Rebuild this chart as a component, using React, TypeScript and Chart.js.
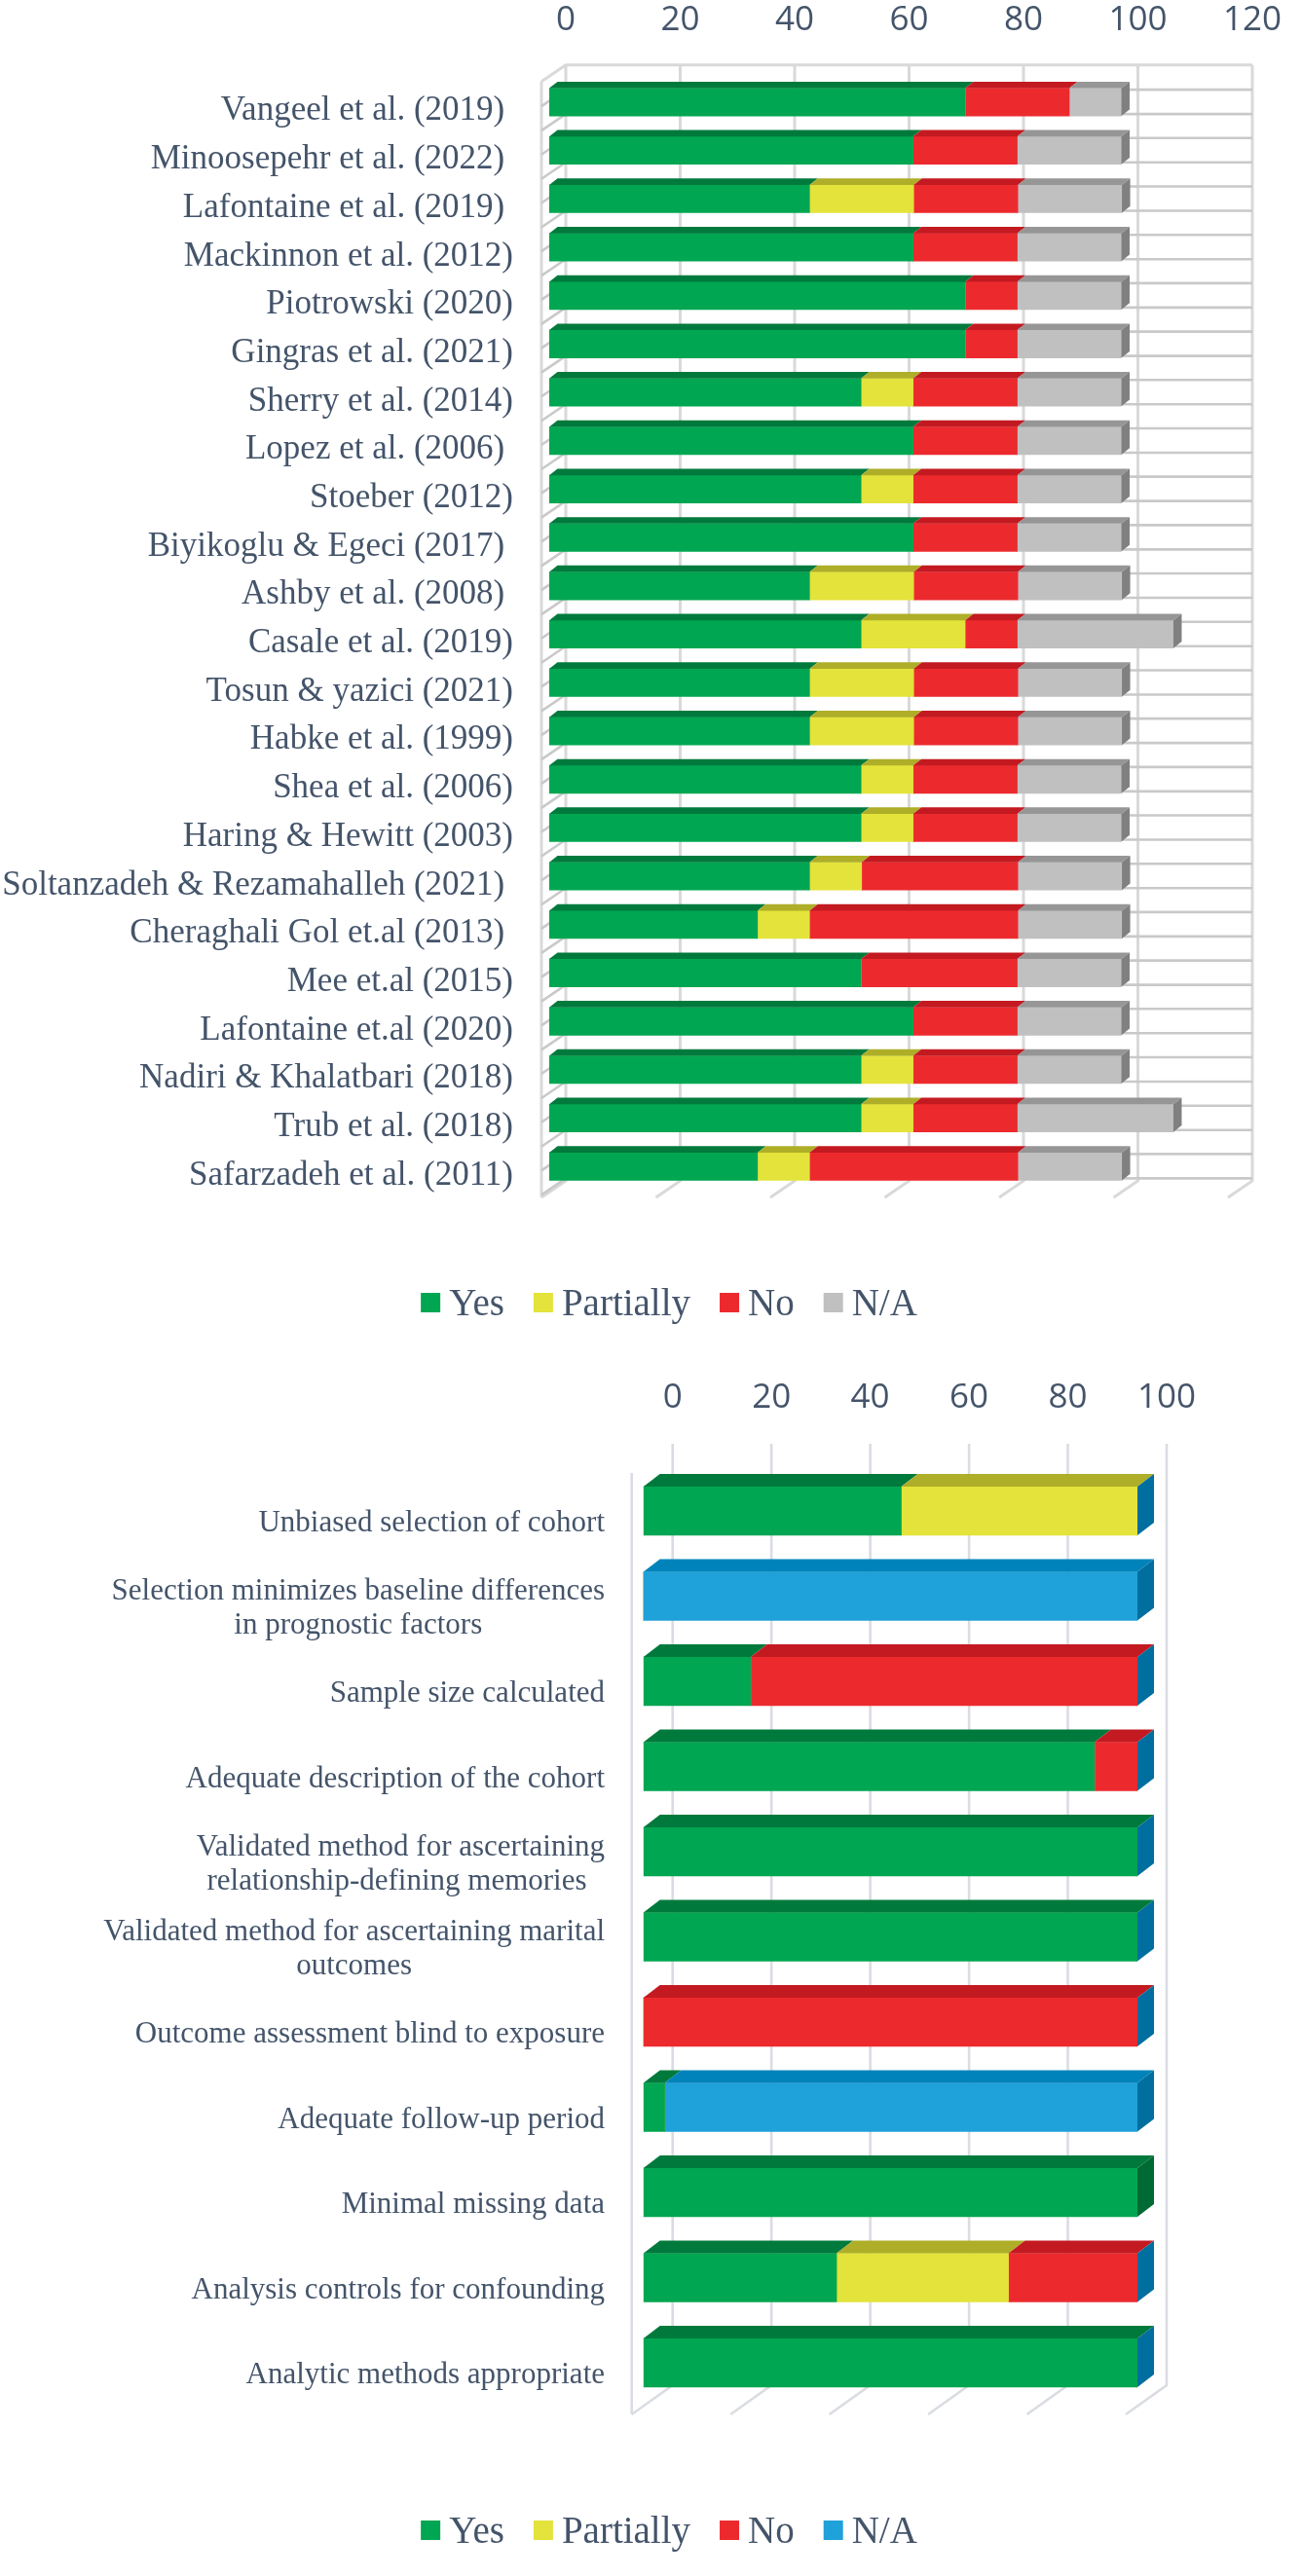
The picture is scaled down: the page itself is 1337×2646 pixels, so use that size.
import React, { useEffect, useRef } from "react";
import { Chart, registerables } from "chart.js";

Chart.register(...registerables);

// ---- data: risk of bias per study (% of 11 items) ----
const studies = [
  "Vangeel et al. (2019) ",
  "Minoosepehr et al. (2022) ",
  "Lafontaine et al. (2019) ",
  "Mackinnon et al. (2012)",
  "Piotrowski (2020)",
  "Gingras et al. (2021)",
  "Sherry et al. (2014)",
  "Lopez et al. (2006) ",
  "Stoeber (2012)",
  "Biyikoglu & Egeci (2017) ",
  "Ashby et al. (2008) ",
  "Casale et al. (2019)",
  "Tosun & yazici (2021)",
  "Habke et al. (1999)",
  "Shea et al. (2006)",
  "Haring & Hewitt (2003)",
  "Soltanzadeh & Rezamahalleh (2021) ",
  "Cheraghali Gol et.al (2013) ",
  "Mee et.al (2015)",
  "Lafontaine et.al (2020)",
  "Nadiri & Khalatbari (2018)",
  "Trub et al. (2018)",
  "Safarzadeh et al. (2011)",
];
const studyYes = [72.7, 63.6, 45.5, 63.6, 72.7, 72.7, 54.5, 63.6, 54.5, 63.6, 45.5, 54.5, 45.5, 45.5, 54.5, 54.5, 45.5, 36.4, 54.5, 63.6, 54.5, 54.5, 36.4];
const studyPartially = [0, 0, 18.2, 0, 0, 0, 9.1, 0, 9.1, 0, 18.2, 18.2, 18.2, 18.2, 9.1, 9.1, 9.1, 9.1, 0, 0, 9.1, 9.1, 9.1];
const studyNo = [18.2, 18.2, 18.2, 18.2, 9.1, 9.1, 18.2, 18.2, 18.2, 18.2, 18.2, 9.1, 18.2, 18.2, 18.2, 18.2, 27.3, 36.4, 27.3, 18.2, 18.2, 18.2, 36.4];
const studyNA = [9.1, 18.2, 18.2, 18.2, 18.2, 18.2, 18.2, 18.2, 18.2, 18.2, 18.2, 27.3, 18.2, 18.2, 18.2, 18.2, 18.2, 18.2, 18.2, 18.2, 18.2, 27.3, 18.2];

// ---- data: per criterion (% of 23 studies) ----
const criteria = [
  ["Unbiased selection of cohort"],
  ["Selection minimizes baseline differences", "in prognostic factors"],
  ["Sample size calculated"],
  ["Adequate description of the cohort"],
  ["Validated method for ascertaining", "relationship-defining memories "],
  ["Validated method for ascertaining marital", "outcomes"],
  ["Outcome assessment blind to exposure"],
  ["Adequate follow-up period"],
  ["Minimal missing data"],
  ["Analysis controls for confounding"],
  ["Analytic methods appropriate"],
];
// null = empty cell in the source sheet, 0 = a zero entry
const critYes = [52.2, 0, 21.7, 91.3, 100, 100, 0, 4.3, 100, 39.1, 100];
const critPartially = [47.8, 0, 0, 0, 0, 0, 0, 0, null, 34.8, 0];
const critNo = [0, 0, 78.3, 8.7, 0, 0, 100, 0, null, 26.1, 0];
const critNA = [0, 100, 0, 0, 0, 0, 0, 95.7, null, 0, 0];

const seriesNames = ["Yes", "Partially", "No", "N/A"];

// ---- styles ----
const TEXT = "#44546A";
const SERIF = '"Liberation Serif", "Times New Roman", serif';
const TICK_FONT = { family: '"Open Sans", sans-serif', size: 35, lineHeight: 1.2 };

const GREEN = { front: "#00A651", top: "#007A3C", side: "#006A34" };
const YELLOW = { front: "#E3E33B", top: "#AEAE28", side: "#8F8F1E" };
const RED = { front: "#EC2A2E", top: "#C31A21", side: "#A5141A" };
const GRAY = { front: "#C0C0C1", top: "#969696", side: "#808080" };
const BLUE = { front: "#1FA1DA", top: "#0083BA", side: "#006E9E" };

type Deco = {
  backOffset: number;
  depthX: number;
  depthY: number;
  barDx: number;
  barDy: number;
  wallTop: number;
  wallBottom: number;
  topEdge: boolean;
  rowLines: boolean;
  gridColor: string;
  gridWidth: number;
  labelSize: number;
  labelRight: number;
  labelShift: number;
  labelLine: number;
  legendCenter: number;
  legendTop: number;
  legendBaseline: number;
  faces: { top: string; side: string }[];
};

function decoPlugin(d: Deco) {
  return {
    id: "deco3d",
    beforeDatasetsDraw(chart: any) {
      const { ctx } = chart;
      const xs = chart.scales.x;
      const vals = xs.ticks.map((t: any) => t.value);
      const bx = (v: number) => xs.getPixelForValue(v) + d.backOffset;
      const x0 = bx(vals[0]);
      const x1 = bx(vals[vals.length - 1]);
      ctx.save();
      ctx.strokeStyle = d.gridColor;
      ctx.lineWidth = d.gridWidth;
      ctx.beginPath();
      for (const v of vals) {
        const x = bx(v);
        ctx.moveTo(x, d.wallTop);
        ctx.lineTo(x, d.wallBottom);
        ctx.lineTo(x - d.depthX, d.wallBottom + d.depthY);
      }
      ctx.moveTo(x0 - d.depthX, d.wallTop + d.depthY);
      ctx.lineTo(x0 - d.depthX, d.wallBottom + d.depthY);
      if (d.topEdge) {
        ctx.moveTo(x0 - d.depthX, d.wallTop + d.depthY);
        ctx.lineTo(x0, d.wallTop);
        ctx.lineTo(x1, d.wallTop);
      }
      ctx.stroke();
      if (d.rowLines) {
        ctx.strokeStyle = "#C9C9C9";
        ctx.lineWidth = 2.6;
        ctx.beginPath();
        chart.getDatasetMeta(0).data.forEach((bar: any) => {
          const { y, height } = bar.getProps(["y", "height"], true);
          for (const yy of [y - height / 2 + 1.5, y + height / 2 - 2]) {
            ctx.moveTo(x0 - d.depthX, yy + d.depthY);
            ctx.lineTo(x0, yy);
            ctx.lineTo(x1, yy);
          }
        });
        ctx.stroke();
      }
      ctx.restore();
    },
    afterDatasetsDraw(chart: any) {
      const { ctx } = chart;
      const sets = chart.data.datasets;
      const poly = (pts: number[][], color: string) => {
        ctx.fillStyle = color;
        ctx.beginPath();
        ctx.moveTo(pts[0][0], pts[0][1]);
        for (let k = 1; k < pts.length; k++) ctx.lineTo(pts[k][0], pts[k][1]);
        ctx.closePath();
        ctx.fill();
      };
      ctx.save();
      // top faces of every segment
      sets.forEach((ds: any, di: number) => {
        chart.getDatasetMeta(di).data.forEach((bar: any, i: number) => {
          const v = ds.data[i];
          if (v == null || v === 0) return;
          const { x, y, base, height } = bar.getProps(["x", "y", "base", "height"], true);
          const yT = y - height / 2;
          poly(
            [
              [base, yT],
              [x, yT],
              [x + d.barDx, yT - d.barDy],
              [base + d.barDx, yT - d.barDy],
            ],
            d.faces[di].top
          );
        });
      });
      // end face of the last filled series in each row
      const rows = chart.data.labels.length;
      for (let i = 0; i < rows; i++) {
        let last = -1;
        sets.forEach((ds: any, di: number) => {
          if (ds.data[i] != null) last = di;
        });
        if (last < 0) continue;
        const bar = chart.getDatasetMeta(last).data[i];
        const { x, y, height } = bar.getProps(["x", "y", "height"], true);
        const yT = y - height / 2;
        const yB = y + height / 2;
        poly(
          [
            [x, yT],
            [x + d.barDx, yT - d.barDy],
            [x + d.barDx, yB - d.barDy],
            [x, yB],
          ],
          d.faces[last].side
        );
      }
      ctx.restore();
    },
    afterDraw(chart: any) {
      const { ctx } = chart;
      const ys = chart.scales.y;
      ctx.save();
      // category labels, lines centred inside a right-aligned block
      ctx.font = `${d.labelSize}px ${SERIF}`;
      ctx.fillStyle = TEXT;
      ctx.textAlign = "center";
      ctx.textBaseline = "alphabetic";
      const cap = d.labelSize * 0.662;
      chart.data.labels.forEach((lab: any, i: number) => {
        const lines: string[] = Array.isArray(lab) ? lab : [lab];
        const w = Math.max(...lines.map((l) => ctx.measureText(l).width));
        const cx = d.labelRight - w / 2;
        const yc = ys.getPixelForValue(i) + d.labelShift;
        lines.forEach((l, k) => {
          ctx.fillText(l, cx, yc + cap / 2 + (k - (lines.length - 1) / 2) * d.labelLine);
        });
      });
      // legend
      ctx.font = `39px ${SERIF}`;
      ctx.textAlign = "left";
      const items = chart.data.datasets.map((ds: any) => ({ text: ds.label, color: ds.backgroundColor }));
      const widths = items.map((it: any) => 29 + ctx.measureText(it.text).width);
      const total = widths.reduce((a: number, b: number) => a + b, 0) + 30 * (items.length - 1);
      let x = d.legendCenter - total / 2;
      items.forEach((it: any, k: number) => {
        ctx.fillStyle = it.color;
        ctx.fillRect(x, d.legendTop, 20, 20);
        ctx.fillStyle = TEXT;
        ctx.fillText(it.text, x + 29, d.legendBaseline);
        x += widths[k] + 30;
      });
      ctx.restore();
    },
  };
}

function makeOptions(max: number, axisHeight: number, left: number, right: number, bottom: number, tickPad: number, labelOffset: number) {
  return {
    indexAxis: "y" as const,
    responsive: false,
    animation: false as const,
    layout: { padding: { left: 0, top: 0, right, bottom } },
    plugins: { legend: { display: false }, tooltip: { enabled: false } },
    scales: {
      x: {
        stacked: true,
        position: "top" as const,
        min: 0,
        max,
        grid: { display: false, drawTicks: false },
        border: { display: false },
        ticks: {
          stepSize: 20,
          font: TICK_FONT,
          color: TEXT,
          padding: tickPad,
          labelOffset,
          maxRotation: 0,
          autoSkip: false,
        },
        afterFit: (s: any) => {
          s.height = axisHeight;
        },
      },
      y: {
        stacked: true,
        grid: { display: false, drawTicks: false },
        border: { display: false },
        ticks: { display: false },
        afterFit: (s: any) => {
          s.width = left;
        },
      },
    },
  };
}

function StudyChart() {
  const ref = useRef<HTMLCanvasElement>(null);
  useEffect(() => {
    if (!ref.current) return;
    const colors = [GREEN, YELLOW, RED, GRAY];
    const values = [studyYes, studyPartially, studyNo, studyNA];
    const chart = new Chart(ref.current, {
      type: "bar",
      data: {
        labels: studies,
        datasets: values.map((data, k) => ({
          label: seriesNames[k],
          data,
          backgroundColor: colors[k].front,
          borderWidth: 0,
          barThickness: 28.5,
        })),
      },
      options: makeOptions(120, 80, 564, 45.8, 177, 38, 17) as any,
      plugins: [
        decoPlugin({
          backOffset: 17,
          depthX: 25,
          depthY: 17,
          barDx: 8.5,
          barDy: 6.7,
          wallTop: 66.7,
          wallBottom: 1213,
          topEdge: true,
          rowLines: true,
          gridColor: "#D9D9D9",
          gridWidth: 3,
          labelSize: 35,
          labelRight: 527,
          labelShift: 7,
          labelLine: 40,
          legendCenter: 687,
          legendTop: 1328,
          legendBaseline: 1351,
          faces: colors,
        }),
      ],
    });
    return () => chart.destroy();
  }, []);
  return <canvas ref={ref} width={1337} height={1400} style={{ display: "block" }} />;
}

function CriteriaChart() {
  const ref = useRef<HTMLCanvasElement>(null);
  useEffect(() => {
    if (!ref.current) return;
    const colors = [GREEN, YELLOW, RED, BLUE];
    const values = [critYes, critPartially, critNo, critNA];
    const chart = new Chart(ref.current, {
      type: "bar",
      data: {
        labels: criteria,
        datasets: values.map((data, k) => ({
          label: seriesNames[k],
          data,
          backgroundColor: colors[k].front,
          borderWidth: 0,
          barThickness: 50,
        })),
      },
      options: makeOptions(100, 108.25, 660.7, 169, 175.25, 51, 30) as any,
      plugins: [
        decoPlugin({
          backOffset: 30,
          depthX: 42,
          depthY: 30,
          barDx: 17,
          barDy: 13,
          wallTop: 83,
          wallBottom: 1050,
          topEdge: false,
          rowLines: false,
          gridColor: "#D9DDE2",
          gridWidth: 2.6,
          labelSize: 31,
          labelRight: 621,
          labelShift: 11,
          labelLine: 35,
          legendCenter: 687,
          legendTop: 1189,
          legendBaseline: 1212,
          faces: colors,
        }),
      ],
    });
    return () => chart.destroy();
  }, []);
  return <canvas ref={ref} width={1337} height={1246} style={{ display: "block" }} />;
}

export default function App() {
  return (
    <div style={{ position: "absolute", left: 0, top: 0, width: 1337, background: "#ffffff" }}>
      <StudyChart />
      <CriteriaChart />
    </div>
  );
}
